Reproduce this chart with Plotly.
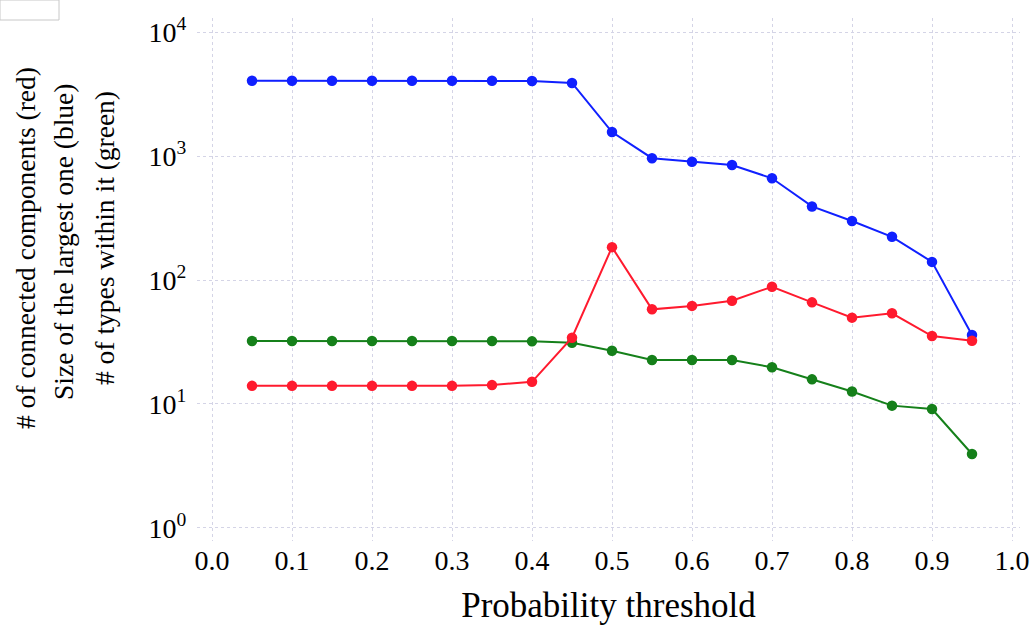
import plotly.graph_objects as go

thresholds = [0.05, 0.10, 0.15, 0.20, 0.25, 0.30, 0.35, 0.40, 0.45, 0.50,
              0.55, 0.60, 0.65, 0.70, 0.75, 0.80, 0.85, 0.90, 0.95]
largest_size_blue = [4050, 4050, 4050, 4050, 4050, 4050, 4050, 4030, 3880, 1560,
                     960, 900, 846, 661, 392, 299, 223, 140, 36]
types_green = [32.2, 32.2, 32.2, 32.2, 32.2, 32.2, 32.2, 32.0, 31.2, 26.9,
               22.6, 22.6, 22.6, 19.8, 15.8, 12.6, 9.7, 9.1, 3.95]
components_red = [14.0, 14.0, 14.0, 14.0, 14.0, 14.0, 14.2, 15.1, 34.2, 184,
                  58, 61.8, 68, 88.3, 66, 49.7, 53.9, 35.3, 32.4]

x_ticks = [0.0, 0.1, 0.2, 0.3, 0.4, 0.5, 0.6, 0.7, 0.8, 0.9, 1.0]
y_ticks = [1, 10, 100, 1000, 10000]
y_ticktext = ["10<sup>0</sup>", "10<sup>1</sup>", "10<sup>2</sup>", "10<sup>3</sup>", "10<sup>4</sup>"]
y_title_lines = ["# of connected components (red)",
                 "Size of the largest one (blue)",
                 "# of types within it (green)"]
x_title = "Probability threshold"

FONT = "Liberation Serif"
L, R, T, B = 197, 11, 18, 84
PW, PH = 1031 - L - R, 625 - T - B

def px(xp):
    return (xp - L) / PW

def py(yp):
    return (625 - B - yp) / PH

fig = go.Figure()
for vals, col in [(largest_size_blue, "#1020ff"), (types_green, "#15801a"), (components_red, "#ff1a2e")]:
    fig.add_trace(go.Scatter(
        x=thresholds, y=vals, mode="lines+markers",
        line=dict(color=col, width=2),
        marker=dict(color=col, size=10.5),
        showlegend=False,
    ))

grid_col = "#d4d4e6"
title_pos = [(25, 248), (64, 242), (104, 238)]
annotations = [dict(
    text=t, textangle=-90, xref="paper", yref="paper",
    x=px(xc), y=py(yc), xanchor="center", yanchor="middle", showarrow=False,
    font=dict(family=FONT, size=27.5, color="black"),
) for t, (xc, yc) in zip(y_title_lines, title_pos)]

fig.update_layout(
    width=1031, height=625,
    margin=dict(l=L, r=R, t=T, b=B, autoexpand=False),
    paper_bgcolor="white", plot_bgcolor="white",
    font=dict(family=FONT, color="black", size=28),
    xaxis=dict(
        range=[-0.01875, 1.01], tickvals=x_ticks,
        ticktext=[f"{v:.1f}" for v in x_ticks],
        showgrid=True, gridcolor=grid_col, griddash="3px,3px", gridwidth=1.2,
        zeroline=False, showline=False, ticks="", automargin=False,
        tickfont=dict(family=FONT, size=28),
        title=dict(text=x_title, font=dict(family=FONT, size=35), standoff=17),
    ),
    yaxis=dict(
        type="log", range=[-0.105, 4.113],
        tickvals=y_ticks, ticktext=y_ticktext,
        showgrid=True, gridcolor=grid_col, griddash="3px,3px", gridwidth=1.2,
        zeroline=False, showline=False, ticks="outside", ticklen=4,
        tickcolor="rgba(0,0,0,0)", automargin=False,
        tickfont=dict(family=FONT, size=28),
    ),
    annotations=annotations,
    shapes=[dict(
        type="rect", xref="paper", yref="paper",
        x0=px(0), x1=px(59), y0=py(0), y1=py(20),
        line=dict(color="#c8c8c8", width=1), fillcolor="white",
    )],
)

fig.write_html("out.html")
